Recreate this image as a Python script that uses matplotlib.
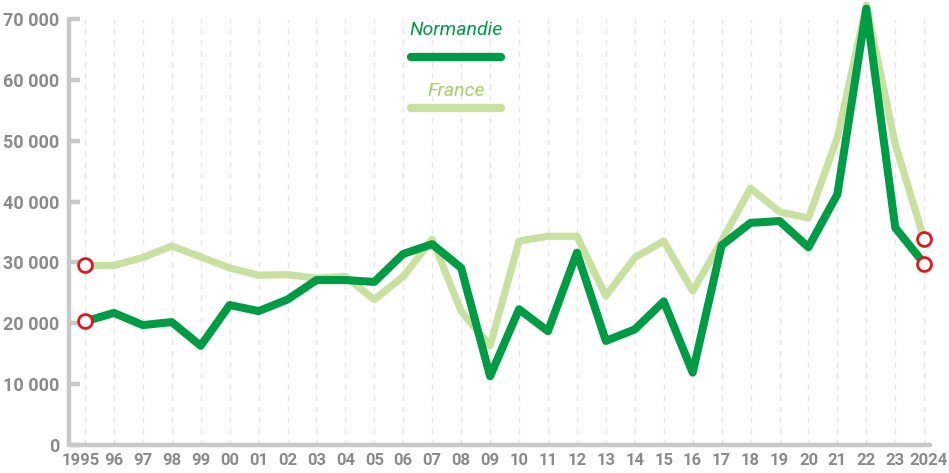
import numpy as np
import matplotlib.pyplot as plt
import matplotlib.transforms as mtransforms
from matplotlib.ticker import FuncFormatter

plt.rcParams['font.family'] = ['Roboto', 'DejaVu Sans']

# Annual values, 1995-2024
years = np.arange(1995, 2025)
normandie = [20300, 21700, 19700, 20200, 16300, 23000, 22000, 23900, 27100, 27100,
             26800, 31400, 33000, 29100, 11300, 22300, 18700, 31600, 17100, 19000,
             23600, 11900, 32800, 36500, 36800, 32500, 41200, 71700, 35700, 29800]
france = [29500, 29500, 30800, 32700, 30900, 29100, 27900, 28000, 27400, 27700,
          23900, 27700, 33800, 22000, 16300, 33500, 34300, 34300, 24500, 30800,
          33500, 25300, 33500, 42200, 38300, 37300, 50500, 72300, 49400, 33800]
year_labels = ['1995'] + [str(y)[2:] for y in years[1:-1]] + ['2024']

dark_green = '#009b45'
light_green = '#c8e0a0'
axis_gray = '#c8c8c8'
text_gray = '#8a8a8a'

fig = plt.figure(figsize=(9.49, 4.73), dpi=100)
ax = fig.add_axes([69/949, 28/473, 861/949, 426/473])

# faint dashed guide at each year
for y in years:
    ax.axvline(y, color='#e6e6e6', lw=1, ls=(0, (4, 4)), zorder=0)

ax.plot(years, france, color=light_green, lw=5.2, solid_joinstyle='round',
        clip_on=False, zorder=2)
ax.plot(years, normandie, color=dark_green, lw=5.8, solid_joinstyle='round',
        clip_on=False, zorder=3)

# open circles on first and last points
ends = [0, -1]
for series in (france, normandie):
    ax.plot(years[ends], np.array(series)[ends], 'o', ms=10, mfc='white',
            mec='#e3151e', mew=2, zorder=4, clip_on=False)

ax.set_xlim(1994.45, 2024.2)
ax.set_ylim(0, 70000)
ax.set_yticks(np.arange(0, 70001, 10000))
ax.yaxis.set_major_formatter(FuncFormatter(lambda v, p: f'{int(v):,}'.replace(',', ' ')))
ax.set_xticks(years)
ax.set_xticklabels(year_labels)

for side in ('top', 'right'):
    ax.spines[side].set_visible(False)
for side in ('left', 'bottom'):
    ax.spines[side].set_color(axis_gray)
    ax.spines[side].set_linewidth(3.2)
    ax.spines[side].set_capstyle('round')

ax.tick_params(axis='y', direction='in', length=8, width=3.2, color=axis_gray,
               labelsize=13, labelcolor=text_gray, pad=7)
ax.tick_params(axis='x', length=0, labelsize=12, labelcolor=text_gray, pad=6)
for lab in ax.get_xticklabels() + ax.get_yticklabels():
    lab.set_fontweight('bold')

# nudge the full-year labels outward so they clear their neighbours
xlabs = ax.get_xticklabels()
for lab, dx in ((xlabs[0], -4), (xlabs[-1], 4)):
    lab.set_transform(lab.get_transform() +
                      mtransforms.ScaledTranslation(dx / 100, 0, fig.dpi_scale_trans))

# legend drawn by hand above the curves
ax.text(0.450, 0.975, 'Normandie', transform=ax.transAxes, ha='center', va='center',
        color=dark_green, fontsize=14, style='italic')
ax.plot([0.397, 0.502], [0.91, 0.91], transform=ax.transAxes, color=dark_green,
        lw=6, solid_capstyle='round', clip_on=False)
ax.text(0.450, 0.832, 'France', transform=ax.transAxes, ha='center', va='center',
        color='#a8cf6a', fontsize=14, style='italic')
ax.plot([0.397, 0.502], [0.79, 0.79], transform=ax.transAxes, color=light_green,
        lw=6, solid_capstyle='round', clip_on=False)

fig.savefig('out.png', dpi=100)
